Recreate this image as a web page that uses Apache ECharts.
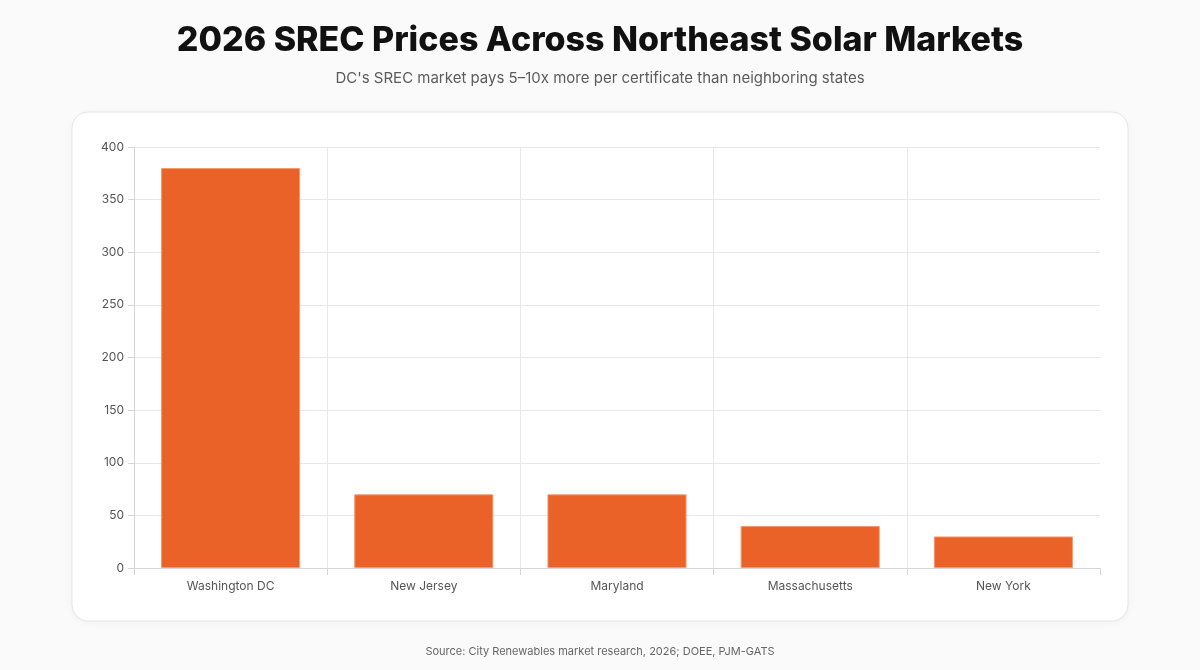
<!DOCTYPE html>
<html>
<head>
<meta charset="utf-8">
<script src="https://cdn.jsdelivr.net/npm/echarts@6/dist/echarts.min.js"></script>
<style>
  html, body { margin: 0; padding: 0; background: #fafafa; }
  #chart { width: 1200px; height: 670px; }
</style>
</head>
<body>
<div id="chart"></div>
<script>
const states = ["Washington DC", "New Jersey", "Maryland", "Massachusetts", "New York"];
const srecPrices = [380, 70, 70, 40, 30];
const yTicks = { min: 0, max: 400, step: 50 };

const fontFamily = "Inter, 'Noto Sans', sans-serif";
const chart = echarts.init(document.getElementById("chart"));

chart.setOption({
  backgroundColor: "#fafafa",
  textStyle: { fontFamily },
  title: [
    {
      text: "2026 SREC Prices Across Northeast Solar Markets",
      left: "center",
      top: 19,
      textStyle: { fontSize: 34, fontWeight: 800, color: "#111111", fontFamily }
    },
    {
      text: "DC's SREC market pays 5\u201310x more per certificate than neighboring states",
      left: "center",
      top: 66,
      textStyle: { fontSize: 15, fontWeight: 400, color: "#5c5c5c", fontFamily }
    },
    {
      text: "Source: City Renewables market research, 2026; DOEE, PJM-GATS",
      left: "center",
      top: 641,
      textStyle: { fontSize: 11, fontWeight: 400, color: "#666666", fontFamily }
    }
  ],
  graphic: [
    {
      type: "rect",
      z: -10,
      shape: { x: 72, y: 112, width: 1056, height: 509, r: 16 },
      style: {
        fill: "#ffffff",
        stroke: "#e6e6e6",
        lineWidth: 1,
        shadowBlur: 8,
        shadowColor: "rgba(0,0,0,0.04)",
        shadowOffsetY: 2
      }
    }
  ],
  grid: { left: 134, right: 100, top: 147, bottom: 102 },
  xAxis: {
    type: "category",
    data: states,
    boundaryGap: true,
    axisLine: { show: true, lineStyle: { color: "#d6d6d6" } },
    axisTick: { show: true, length: 7, lineStyle: { color: "#d6d6d6" } },
    splitLine: { show: true, showMaxLine: false, lineStyle: { color: "#e8e8e8" } },
    axisLabel: { color: "#555555", fontSize: 12, margin: 12, fontFamily }
  },
  yAxis: {
    type: "value",
    min: yTicks.min,
    max: yTicks.max,
    interval: yTicks.step,
    axisLine: { show: true, lineStyle: { color: "#d6d6d6" } },
    axisTick: { show: true, length: 6, lineStyle: { color: "#d6d6d6" } },
    splitLine: { show: true, lineStyle: { color: "#e8e8e8" } },
    axisLabel: { color: "#555555", fontSize: 12, margin: 10, fontFamily }
  },
  series: [
    {
      type: "bar",
      data: srecPrices,
      barWidth: "72%",
      itemStyle: {
        color: "#ea6227",
        borderColor: "#f49a6e",
        borderWidth: 1
      }
    }
  ]
});
</script>
</body>
</html>
